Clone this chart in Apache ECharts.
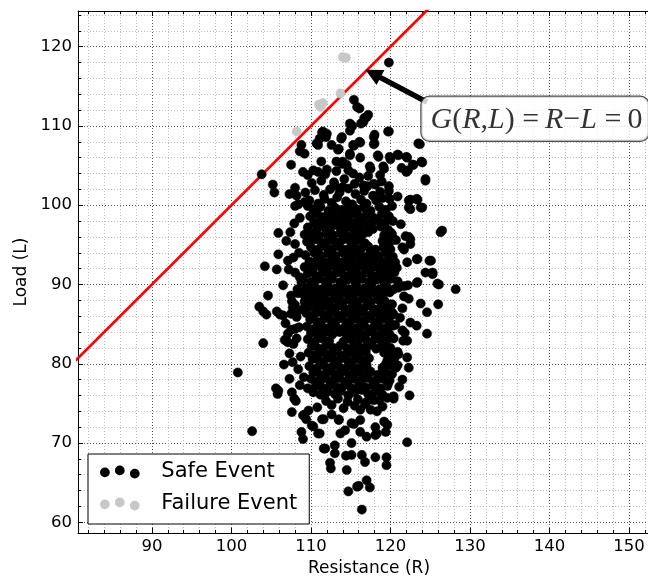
<!DOCTYPE html>
<html>
<head>
<meta charset="utf-8">
<script src="https://cdn.jsdelivr.net/npm/echarts@6/dist/echarts.min.js"></script>
<style>
html,body{margin:0;padding:0;background:#fff;}
#chart{width:648px;height:582px;}
</style>
</head>
<body>
<div id="chart"></div>
<script>
// ---- data (Resistance R, Load L) ----
const seriesNames = ['Safe Event', 'Failure Event'];

const safeOutliers = [
[119.8,118.0],[115.4,113.3],[115.8,112.4],[117.0,111.1],[116.6,110.5],[115.2,110.0],[114.9,109.4],[119.8,109.3],
[113.9,108.6],[112.0,109.0],[111.4,109.2],[117.9,108.6],[117.9,107.7],[116.2,107.9],[115.4,107.5],[113.5,107.1],
[123.7,107.7],[121.0,106.3],[122.1,106.0],[120.0,105.8],[118.5,106.1],[116.2,106.0],[114.9,106.3],[122.9,105.1],
[124.0,105.4],[122.0,104.2],[117.5,104.6],[119.2,104.6],[124.4,103.1],[113.9,105.2],[111.8,103.9],[119.8,101.8],
[122.3,100.6],[123.3,100.8],[123.8,99.7],[122.5,99.5],[126.5,96.8],[122.3,96.0],[121.5,94.7],[123.3,93.2],
[125.1,93.0],[124.4,91.5],[125.3,91.3],[125.9,90.1],[128.2,89.4],[123.3,90.2],[122.2,89.9],[121.0,89.6],
[114.9,110.3],[111.5,109.3],[111.1,108.4],[111.9,108.6],[110.7,107.8],[110.9,107.6],[112.6,107.6],[113.4,107.0],
[113.8,108.4],[108.8,107.6],[109.2,106.5],[108.6,106.8],[107.5,105.1],[111.3,105.5],[113.2,105.5],[114.0,105.5],
[114.5,105.1],[114.7,104.4],[114.9,106.5],[115.3,107.6],[110.3,104.4],
[116.1,112.2],[116.7,111.0],[117.2,111.4],[116.3,110.3],[119.7,109.3],[118.0,108.9],[118.0,107.8],[116.1,108.0],
[123.5,107.8],[118.4,106.3],[119.9,106.1],[120.9,106.4],[122.0,106.1],[122.8,105.1],[123.9,105.5],[117.4,104.9],
[119.1,104.9],[121.4,104.7],[122.2,104.4],
[103.8,103.9],[105.2,102.6],[105.4,101.6],[105.9,96.5],[105.9,93.8],[105.7,91.9],[104.2,92.3],[108.0,102.2],
[107.3,101.4],[108.2,101.2],[108.0,99.9],[108.4,100.1],[109.2,100.4],[109.6,99.9],[110.5,99.3],[109.2,96.3],
[109.9,95.9],[106.9,95.5],[108.0,95.1],[107.1,93.0],[107.8,93.4],[108.0,91.5],[108.6,90.9],[108.8,90.3],
[109.0,104.2],[109.6,103.8],[110.9,104.2],[113.0,102.5],[114.0,102.3],
[124.4,103.3],[126.3,96.6],[122.5,100.7],[123.4,100.7],[122.3,99.7],[124.0,99.7],[121.9,96.1],[122.5,95.7],
[122.5,95.1],[121.7,94.4],[123.4,93.2],[124.9,93.0],[125.3,91.5],[126.1,90.0],[123.4,90.3],[122.1,92.8],
[120.6,92.8],[120.8,92.1],[121.7,89.8],[119.8,102.4],[120.2,99.9],[120.2,96.3],[117.1,102.4],[118.1,102.6],
[116.6,102.5],[117.9,102.7],[118.7,103.8],[117.2,103.7],
[104.6,88.6],[103.5,87.2],[104.0,86.6],[104.4,86.2],[105.7,86.6],[106.1,86.2],[104.0,82.6],[106.7,83.0],
[107.1,82.7],[108.2,83.2],[108.0,84.4],[107.5,86.3],[108.2,85.9],[107.3,81.3],[107.7,80.2],[107.3,78.1],
[108.6,77.3],[105.6,76.9],[105.8,76.2],[107.9,75.6],[109.6,76.9],[110.3,76.4],[111.7,76.0],
[107.5,88.6],[108.4,88.9],[109.4,88.3],[110.6,88.6],[108.0,87.4],[108.2,86.5],[109.0,86.9],[109.2,87.8],
[100.8,78.9],[102.6,71.5],[106.5,86.1],[105.9,76.6],[106.9,82.9],[107.5,84.3],[107.6,76.4],[107.6,73.9],
[108.1,75.3],[109.0,73.5],[109.4,73.0],[108.8,71.4],[109.0,70.5],[110.1,72.2],[111.1,71.2],[111.6,69.3],
[111.4,73.0],[109.7,74.1],[107.8,82.5],[107.7,87.1],
[109.2,73.6],[110.3,72.1],[110.9,71.2],[111.8,69.3],[113.0,69.7],[113.0,68.7],[112.4,67.5],[112.5,66.8],
[114.5,66.6],[114.7,63.9],[115.8,64.5],[114.4,68.4],[115.1,68.5],[115.1,70.0],[113.7,71.2],[114.3,71.6],
[112.6,73.6],[113.5,72.9],[115.1,72.5],[122.1,70.1],[118.1,68.2],[119.5,68.2],[119.5,67.2],[116.8,67.6],
[116.4,68.5],[117.0,65.3],[117.4,64.4],[116.0,64.6],[116.4,61.6],[119.2,72.7],[119.6,72.3],[119.4,71.4],
[118.1,72.0],[118.1,71.0],[117.0,70.8],[116.2,72.9],[116.2,74.2],[117.5,74.2],[118.3,74.0],[116.2,71.4],
[115.4,72.4],[111.6,73.0],[113.5,73.0],[118.3,71.2],
[126.0,87.5],[123.8,87.6],[124.6,86.5],[123.3,84.8],[124.6,83.8],[122.5,85.2],[121.5,84.2],[122.1,82.9],
[122.1,80.8],[122.3,79.5],[121.5,78.0],[122.4,76.0],[120.4,75.6],[120.6,84.9],[120.4,86.2],[119.4,86.8],
[120.2,87.5],[121.7,88.5],[122.3,88.2],[121.0,81.2],[119.4,79.9],[120.4,75.9],[117.9,75.4],[117.5,75.6],
[121.6,82.9],
[107.9,97.7],[108.6,98.4],[107.4,96.6],[108.5,94.0],[107.2,91.9],[108.3,89.4],[106.5,89.9],[107.6,87.9],
[106.8,85.1],[108.5,84.6],[107.1,83.8],[108.7,80.9],[108.4,79.3],[106.6,79.9],[109.1,78.3],
[121.3,97.6],[120.9,90.4],[121.5,87.0],[121.2,85.8],[121.8,83.9],[120.9,79.8],[121.1,77.1]
];

const safeCore = [
[109.3,101.6],[110.5,101.9],[111.6,101.3],[112.4,102.0],[113.6,101.6],[114.7,102.1],[115.6,101.4],[116.7,101.8],
[117.8,101.2],[118.7,101.7],[110.1,102.8],[111.3,103.1],[112.9,102.9],[114.2,103.3],[115.5,102.7],[116.1,103.5],
[118.9,103.0],[119.9,100.8],[120.9,101.1],[112.0,104.5],[115.3,104.0],[113.2,104.3],
[109.8,100.6],[110.9,100.2],[111.7,100.8],[112.6,100.3],[113.3,101.0],[114.4,100.5],[115.2,100.1],[116.3,100.7],[117.0,100.2],[118.2,100.6],[119.0,100.9],
[110.3,99.5],[111.2,99.8],[112.2,99.3],[113.0,99.7],[113.9,99.4],[114.8,99.9],[115.7,99.5],[116.6,99.7],[117.5,99.3],[118.6,99.8],[119.4,99.4],
[109.9,98.6],[110.8,98.9],[111.6,98.5],[112.5,99.0],[113.5,98.7],[114.3,98.4],[115.1,98.9],[116.1,98.5],[117.0,98.8],[117.9,98.4],[118.9,98.9],[119.8,98.6],
[110.4,97.8],[111.3,98.2],[112.1,97.9],[113.0,98.1],[113.8,97.7],[114.7,98.2],[115.6,97.8],[116.5,98.1],[117.4,97.7],[118.4,98.1],[119.3,97.8],[120.3,98.0],
[109.6,97.2],[110.7,96.9],[111.5,97.3],[112.4,97.0],[113.4,97.4],[114.2,96.9],[115.1,97.2],[116.0,96.9],[116.9,97.3],[117.8,97.0],[118.8,97.3],[119.7,96.9],
[110.2,96.4],[111.0,96.1],[111.9,96.5],[112.8,96.2],[113.7,96.5],[114.6,96.1],[115.5,96.4],[116.4,96.2],[117.2,96.6],[119.2,96.2],[120.1,96.5],
[109.5,95.4],[110.5,95.7],[111.3,95.3],[112.3,95.6],[113.2,95.3],[114.1,95.7],[115.0,95.4],[115.9,95.6],[116.8,95.2],[119.0,95.5],[119.9,95.3],[120.7,95.6],
[110.0,94.7],[110.9,94.4],[111.8,94.8],[112.7,94.5],[113.6,94.8],[114.5,94.4],[115.4,94.7],[116.3,94.5],[117.2,94.8],[118.1,94.4],[119.1,94.7],[120.0,94.4],
[109.3,93.7],[110.4,94.0],[111.3,93.6],[112.2,93.9],[113.1,93.6],[114.0,94.0],[114.9,93.7],[115.8,93.9],[116.7,93.5],[117.6,93.8],[118.5,93.6],[119.5,93.9],[120.3,93.5],
[109.8,92.9],[110.8,93.2],[111.7,92.8],[112.6,93.1],[113.5,92.8],[114.4,93.2],[115.3,92.9],[116.2,93.1],[117.1,92.8],[118.0,93.2],[118.9,92.9],[119.8,93.1],
[109.2,92.2],[110.2,91.9],[111.1,92.3],[112.0,92.0],[112.9,92.3],[113.8,91.9],[114.7,92.2],[115.6,92.0],[116.5,92.3],[117.4,91.9],[118.3,92.2],[119.3,92.0],[120.1,92.3],
[109.6,91.4],[110.6,91.1],[111.5,91.5],[112.4,91.2],[113.3,91.5],[114.2,91.1],[115.1,91.4],[116.0,91.2],[116.9,91.5],[117.8,91.1],[118.7,91.4],[119.7,91.2],[120.5,91.5],
[109.0,90.6],[110.0,90.3],[110.9,90.7],[111.8,90.4],[112.7,90.7],[113.7,90.3],[114.6,90.6],[115.5,90.4],[116.4,90.7],[117.3,90.3],[118.2,90.6],[119.1,90.4],[120.0,90.7],
[109.4,89.5],[110.4,89.8],[111.3,89.4],[112.2,89.7],[113.1,89.5],[114.0,89.8],[114.9,89.4],[115.8,89.7],[116.7,89.5],[117.6,89.8],[118.6,89.4],[119.5,89.7],[120.4,89.4],
[108.9,88.9],[109.9,88.6],[110.8,89.0],[111.7,88.7],[112.6,89.0],[113.5,88.6],[114.4,88.9],[115.3,88.7],[116.2,89.0],[117.1,88.6],[118.0,88.9],[119.0,88.7],[119.9,89.0],
[109.3,88.1],[110.3,87.8],[111.2,88.2],[112.1,87.9],[113.0,88.2],[113.9,87.8],[114.8,88.1],[115.7,87.9],[116.6,88.2],[117.5,87.8],[118.4,88.1],[119.3,87.9],
[109.8,87.2],[110.7,86.9],[111.6,87.3],[112.5,87.0],[113.4,87.3],[114.3,86.9],[115.2,87.2],[116.1,87.0],[117.0,87.3],[117.9,86.9],[118.8,87.2],[119.7,87.0],
[109.4,86.4],[110.3,86.1],[111.2,86.5],[112.1,86.2],[113.0,86.5],[113.9,86.1],[114.8,86.4],[115.7,86.2],[116.6,86.5],[117.5,86.1],[118.4,86.4],[119.3,86.2],[120.2,86.5],
[109.9,85.6],[110.8,85.3],[111.7,85.7],[112.6,85.4],[113.5,85.7],[114.4,85.3],[115.3,85.6],[116.2,85.4],[117.1,85.7],[118.0,85.3],[118.9,85.6],[119.8,85.4],
[109.5,84.7],[110.4,84.4],[111.3,84.8],[112.2,84.5],[113.1,84.8],[114.0,84.4],[114.9,84.7],[115.8,84.5],[116.7,84.8],[117.6,84.4],[118.5,84.7],[119.4,84.5],[120.3,84.8],
[110.0,83.9],[110.9,83.6],[111.8,84.0],[112.7,83.7],[113.6,84.0],[114.5,83.6],[115.4,83.9],[116.3,83.7],[117.2,84.0],[118.1,83.6],[119.0,83.9],[119.9,83.7],
[109.6,83.1],[110.5,82.8],[111.4,83.2],[112.3,82.9],[114.1,82.8],[115.0,83.1],[115.9,82.9],[116.8,83.2],[117.7,82.8],[118.6,83.1],[119.5,82.9],[120.4,83.2],
[110.1,82.2],[111.0,81.9],[111.9,82.3],[112.8,82.0],[113.7,82.3],[114.6,81.9],[115.5,82.2],[116.4,82.0],[117.3,82.3],[118.2,81.9],[119.1,82.2],[120.0,82.0],
[109.7,81.4],[110.6,81.1],[111.5,81.5],[112.4,81.2],[113.3,81.5],[114.2,81.1],[115.1,81.4],[116.0,81.2],[116.9,81.5],[119.2,81.4],[120.1,81.2],[120.9,81.5],
[110.2,80.6],[111.1,80.3],[112.0,80.7],[112.9,80.4],[113.8,80.7],[114.7,80.3],[115.6,80.6],[116.5,80.4],[117.3,80.7],[119.6,80.4],[120.5,80.7],
[109.8,79.7],[110.7,79.4],[111.6,79.8],[112.5,79.5],[113.4,79.8],[114.3,79.4],[115.2,79.7],[116.1,79.5],[117.0,79.8],[119.0,79.5],[119.9,79.8],[120.7,79.5],
[110.3,78.9],[111.2,78.6],[112.1,79.0],[113.0,78.7],[113.9,79.0],[114.8,78.6],[115.7,78.9],[116.6,78.7],[117.5,79.0],[118.4,78.6],[119.3,78.9],[120.2,78.7],
[110.0,78.1],[110.9,77.8],[111.8,78.2],[112.7,77.9],[113.6,78.2],[114.5,77.8],[115.4,78.1],[116.3,77.9],[117.2,78.2],[118.1,77.8],[119.0,78.1],[119.9,77.9],
[110.6,77.2],[111.5,76.9],[112.4,77.3],[113.3,77.0],[114.2,77.3],[115.1,76.9],[116.0,77.2],[116.9,77.0],[117.8,77.3],[118.7,76.9],[119.6,77.2],
[111.2,76.1],[112.1,76.5],[113.0,76.2],[113.8,76.6],[114.7,76.0],[115.5,76.4],[116.4,76.7],[117.2,76.2],[118.1,76.5],[119.0,76.1],
[111.9,75.3],[113.4,75.6],[114.6,75.2],[115.9,75.5],[117.0,75.2],[118.6,75.4],[119.6,75.7],
[110.8,74.5],[112.6,74.8],[114.1,74.4],[115.5,74.7],[116.8,74.9],[119.0,74.6]
];

// extra points filling the densest centre of the cloud
const safeCentre = [
[110.6,99.1],[112.4,99.0],[114.1,99.2],[115.8,98.9],[117.3,99.1],[119.1,99.0],
[110.9,97.5],[112.7,97.6],[114.3,97.4],[116.0,97.6],[117.6,97.4],[119.2,97.6],
[110.5,95.9],[112.2,96.0],[114.0,95.8],[115.7,96.0],[119.6,95.9],
[110.7,94.2],[112.3,94.1],[114.1,94.3],[115.8,94.1],[117.5,94.2],[119.4,94.2],
[110.4,92.6],[112.1,92.5],[113.9,92.7],[115.6,92.5],[117.4,92.6],[119.1,92.5],
[110.8,90.9],[112.5,91.0],[114.3,90.8],[116.0,91.0],[117.7,90.9],[119.5,90.8],
[110.2,89.2],[111.9,89.2],[113.6,89.1],[115.4,89.3],[117.1,89.1],[118.9,89.2],
[110.6,87.6],[112.3,87.5],[114.0,87.7],[115.8,87.5],[117.4,87.6],[119.1,87.5],
[110.1,85.9],[111.9,86.0],[113.6,85.9],[115.3,86.0],[117.1,85.9],[118.8,86.0],
[110.7,84.2],[112.4,84.1],[114.2,84.3],[115.9,84.1],[117.6,84.2],[119.4,84.2],
[110.3,82.5],[112.0,82.6],[115.5,82.5],[117.2,82.6],[119.0,82.5],
[110.8,80.9],[112.5,81.0],[114.2,80.8],[116.0,81.0],[119.8,80.9],
[110.4,79.1],[112.1,79.2],[113.9,79.1],[115.6,79.2],[117.3,79.1],[119.1,79.2],
[111.1,77.6],[112.8,77.5],[114.6,77.6],[116.3,77.5],[118.0,77.6],[119.7,77.5]
];

const failurePoints = [
[108.2,109.3],[111.0,112.7],[111.5,112.9],[111.2,112.4],[113.7,114.1],[114.0,118.7],[114.4,118.6]
];

// limit-state line G(R,L) = R - L = 0
const limitLine = [[70,70],[140,140]];

// annotation
const annotationText = ['G','(','R',',','L',')','=','R','\u2212','L','=','0'];
const annotationAnchor = [123.9, 110.9];
const arrowTail = [124.6, 113.0];
const arrowHead = [117.8, 116.6];

// axis limits
const xLimits = [80.7, 153.9];
const yLimits = [58.65, 124.5];

const safePoints = safeOutliers.concat(safeCore, safeCentre);

const chart = echarts.init(document.getElementById('chart'), null, {renderer: 'canvas'});

const legendIcon = 'path://M0,6a4,4 0 1,0 8,0a4,4 0 1,0 -8,0Z M15.3,4a4,4 0 1,0 8,0a4,4 0 1,0 -8,0Z M30.7,7.3a4,4 0 1,0 8,0a4,4 0 1,0 -8,0Z';

const FONT = 'DejaVu Sans';

function tickFmt(v) {
  return Math.abs(v % 10) < 1e-6 ? String(Math.round(v)) : '';
}

const axisCommon = {
  axisLine: {show: true, onZero: false, lineStyle: {color: '#000', width: 1}},
  axisTick: {show: true, inside: true, length: 5, lineStyle: {color: '#000'}},
  minorTick: {show: true, splitNumber: 5, length: 3, lineStyle: {color: '#000'}},
  splitLine: {show: true, lineStyle: {color: '#555', width: 1, type: [1, 2]}},
  minorSplitLine: {show: true, lineStyle: {color: '#bdbdbd', width: 1, type: [1, 2]}}
};

const richFmt = {
  i: {fontFamily: 'Liberation Serif', fontStyle: 'italic', fontSize: 30, color: '#000'},
  n: {fontFamily: 'Liberation Serif', fontSize: 30, color: '#000'}
};
const italicSet = {G: 1, R: 1, L: 1};
const annotationLabel = annotationText.map(function (t) {
  const s = italicSet[t] ? 'i' : 'n';
  const txt = (t === '=') ? ' =\u2009' : t;
  return '{' + s + '|' + txt + '}';
}).join('');

const option = {
  animation: false,
  backgroundColor: '#fff',
  grid: {left: 78, top: 11, right: -12, bottom: 49, containLabel: false, outerBoundsMode: 'none'},
  xAxis: [
    Object.assign({}, axisCommon, {
      type: 'value', position: 'bottom', min: xLimits[0], max: xLimits[1], splitNumber: 7,
      name: 'Resistance (R)', nameLocation: 'middle', nameGap: 26,
      nameTextStyle: {fontFamily: FONT, fontSize: 17, color: '#000'},
      axisLabel: {show: true, margin: 5, fontFamily: FONT, fontSize: 16.5, color: '#000', formatter: tickFmt, showMinLabel: true, showMaxLabel: true}
    }),
    {
      type: 'value', position: 'top', min: xLimits[0], max: xLimits[1], splitNumber: 7,
      axisLine: {show: true, onZero: false, lineStyle: {color: '#000', width: 1}},
      axisTick: {show: true, inside: true, length: 5, lineStyle: {color: '#000'}},
      minorTick: {show: true, splitNumber: 5, length: 3, lineStyle: {color: '#000'}},
      axisLabel: {show: false}, splitLine: {show: false}, minorSplitLine: {show: false}
    }
  ],
  yAxis: [
    Object.assign({}, axisCommon, {
      type: 'value', position: 'left', min: yLimits[0], max: yLimits[1], splitNumber: 7,
      name: 'Load (L)', nameLocation: 'middle', nameGap: 43, nameRotate: 90,
      nameTextStyle: {fontFamily: FONT, fontSize: 17, color: '#000'},
      axisLabel: {show: true, margin: 6, fontFamily: FONT, fontSize: 16.5, color: '#000', formatter: tickFmt}
    })
  ],
  legend: {
    orient: 'vertical', left: 88, top: 454,
    padding: [6, 12, 8, 12], itemGap: 8, itemWidth: 39, itemHeight: 11,
    backgroundColor: '#fff', borderColor: '#000', borderWidth: 1, borderRadius: 0,
    textStyle: {fontFamily: FONT, fontSize: 21, color: '#000', lineHeight: 24, padding: [0, 0, 0, 17]},
    selectedMode: false,
    data: [{name: seriesNames[0], icon: legendIcon}, {name: seriesNames[1], icon: legendIcon}]
  },
  series: [
    {
      name: 'limit', type: 'line', data: limitLine, z: 1,
      showSymbol: false, symbol: 'none', clip: true,
      lineStyle: {color: '#ff0000', width: 2.7}, silent: true,
      markLine: {
        silent: true, z: 4,
        symbol: ['none', 'triangle'], symbolSize: [17, 17],
        label: {show: false},
        lineStyle: {color: '#000', width: 5.5, type: 'solid'},
        data: [[{coord: arrowTail}, {coord: arrowHead}]]
      }
    },
    {
      name: seriesNames[0], type: 'scatter', data: safePoints, z: 3,
      symbol: 'circle', symbolSize: 9.2,
      itemStyle: {color: '#000', borderColor: '#000', borderWidth: 0.5, opacity: 1}
    },
    {
      name: seriesNames[1], type: 'scatter', data: failurePoints, z: 3,
      symbol: 'circle', symbolSize: 9.2,
      itemStyle: {color: '#c8c8c8', borderColor: '#c8c8c8', borderWidth: 0.5, opacity: 1}
    },
    {
      name: 'annotation', type: 'scatter', data: [annotationAnchor], z: 10,
      symbolSize: 0, silent: true,
      label: {
        show: true, position: 'right', distance: 0,
        formatter: annotationLabel, rich: richFmt,
        backgroundColor: '#fff', borderColor: '#222', borderWidth: 1.2, borderRadius: 8,
        padding: [8, 6, 6, 9]
      }
    }
  ]
};

chart.setOption(option);
</script>
</body>
</html>
